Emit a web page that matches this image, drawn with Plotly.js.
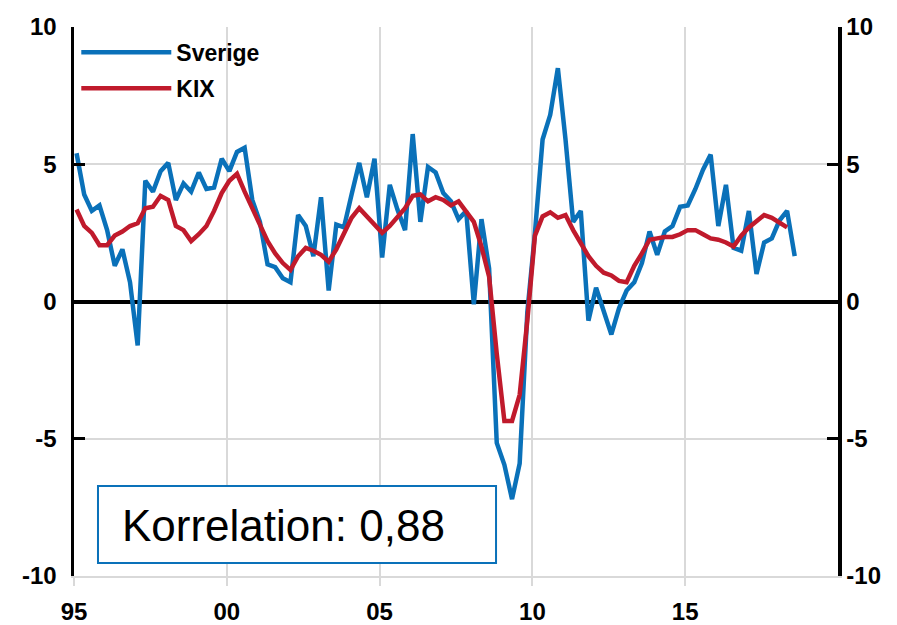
<!DOCTYPE html>
<html><head><meta charset="utf-8">
<script src="https://cdn.plot.ly/plotly-3.0.1.min.js"></script>
<style>html,body{margin:0;padding:0;background:#fff}#chart{width:897px;height:625px}</style>
</head><body><div id="chart"></div>
<script>
const startYear = 1995;
const seriesNames = ['Sverige', 'KIX'];
// Quarterly values, 1995Q1 onward
const sverige = [
  5.4, 3.9, 3.3, 3.5,
  2.6, 1.3, 1.9, 0.7,
  -1.6, 4.4, 4.0, 4.75,
  5.05, 3.7, 4.3, 4.0,
  4.7, 4.1, 4.15, 5.2,
  4.75, 5.45, 5.6, 3.7,
  2.9, 1.35, 1.25, 0.85,
  0.7, 3.15, 2.75, 1.65,
  3.8, 0.4, 2.8, 2.7,
  3.9, 5.05, 3.8, 5.2,
  1.6, 4.25, 3.35, 2.6,
  6.1, 2.9, 4.9, 4.7,
  3.95, 3.65, 3.0, 3.3,
  -0.1, 3.0, 1.2, -5.15,
  -5.95, -7.2, -5.9, -0.4,
  2.5, 5.9, 6.8, 8.5,
  5.9, 2.9, 3.3, -0.7,
  0.5, -0.35, -1.2, -0.25,
  0.4, 0.7, 1.4, 2.55,
  1.7, 2.55, 2.75, 3.45,
  3.5, 4.1, 4.8, 5.35,
  2.75, 4.25, 1.95, 1.85,
  3.3, 1.0, 2.15, 2.3,
  2.95, 3.3, 1.65
];
const kix = [
  3.35, 2.75, 2.5, 2.05,
  2.05, 2.4, 2.55, 2.75,
  2.85, 3.4, 3.45, 3.85,
  3.7, 2.75, 2.6, 2.2,
  2.45, 2.75, 3.3, 3.95,
  4.4, 4.65, 4.0, 3.4,
  2.8, 2.2, 1.75, 1.4,
  1.15, 1.65, 1.95, 1.85,
  1.7, 1.45, 1.9, 2.5,
  3.05, 3.4, 3.1, 2.75,
  2.5, 2.75, 3.05, 3.4,
  3.85, 3.9, 3.65, 3.8,
  3.7, 3.5, 3.65, 3.3,
  2.9, 2.0, 0.9, -1.9,
  -4.35, -4.35, -3.4, -0.7,
  2.4, 3.1, 3.25, 3.05,
  3.15, 2.6, 2.15, 1.65,
  1.3, 1.05, 0.95, 0.75,
  0.7, 1.3, 1.75, 2.25,
  2.3, 2.35, 2.35, 2.45,
  2.6, 2.6, 2.45, 2.3,
  2.25, 2.15, 2.0, 2.4,
  2.7, 2.95, 3.15, 3.05,
  2.85, 2.7
];
const xTickVals = [1995, 2000, 2005, 2010, 2015];
const xTickText = ['95', '00', '05', '10', '15'];
const yTickVals = [-10, -5, 0, 5, 10];
const yTickText = ['-10', '-5', '0', '5', '10'];
const noteText = 'Korrelation: 0,88';

const quarterPos = n => Array.from({length: n}, (_, i) => startYear + i / 4 + 1 / 12);

const BLUE = '#0A71B9';
const RED = '#C01A2C';
const GRID = '#D9D9D9';
const tickFont = {family: 'Liberation Sans, Arial, sans-serif', size: 24, color: '#000', weight: 'bold'};

const traces = [
  {x: quarterPos(sverige.length), y: sverige, name: seriesNames[0], type: 'scatter', mode: 'lines',
   line: {color: BLUE, width: 4.5}, legendgroup: 'a'},
  {x: quarterPos(kix.length), y: kix, name: seriesNames[1], type: 'scatter', mode: 'lines',
   line: {color: RED, width: 4.5}, legendgroup: 'b'},
  {x: [xTickVals[0]], y: [null], yaxis: 'y2', showlegend: false, hoverinfo: 'skip', mode: 'lines'}
];

const yBase = {
  range: [-10, 10], tickvals: yTickVals, ticktext: yTickText,
  showline: true, linecolor: '#000', linewidth: 3.5,
  ticks: 'inside', ticklen: 11, tickwidth: 3, tickcolor: '#000',
  tickfont: tickFont, fixedrange: true
};

const layout = {
  width: 897, height: 625,
  margin: {l: 74, r: 59, t: 27, b: 49},
  paper_bgcolor: '#fff', plot_bgcolor: '#fff',
  showlegend: true,
  legend: {x: 0.003, y: 0.993, xanchor: 'left', yanchor: 'top', bgcolor: 'rgba(255,255,255,0)',
    font: {family: 'Liberation Sans, Arial, sans-serif', size: 23, color: '#000', weight: 'bold'},
    itemwidth: 90, traceorder: 'grouped', tracegroupgap: 3},
  xaxis: {
    range: [1995, 2020], tickvals: xTickVals, ticktext: xTickText,
    showgrid: true, gridcolor: GRID, gridwidth: 2, zeroline: false,
    showline: true, linecolor: GRID, linewidth: 2,
    ticks: 'outside', ticklen: 8, tickwidth: 2, tickcolor: GRID,
    tickfont: tickFont, ticklabelstandoff: 5, fixedrange: true
  },
  yaxis: Object.assign({}, yBase, {
    side: 'left', showgrid: true, gridcolor: GRID, gridwidth: 2,
    zeroline: true, zerolinecolor: '#000', zerolinewidth: 4, ticklabelstandoff: 9
  }),
  yaxis2: Object.assign({}, yBase, {
    side: 'right', overlaying: 'y', showgrid: false, zeroline: false, ticklabelstandoff: 0
  }),
  shapes: [{
    type: 'rect', xref: 'paper', yref: 'paper',
    x0: 0.0314, x1: 0.5524, y0: 0.0237, y1: 0.1639,
    line: {color: BLUE, width: 2}, fillcolor: '#fff', layer: 'above'
  }],
  annotations: [{
    xref: 'paper', yref: 'paper', x: 0.0602, y: 0.092, xanchor: 'left', yanchor: 'middle',
    text: noteText, showarrow: false,
    font: {family: 'Liberation Sans, Arial, sans-serif', size: 44, color: '#000'}
  }]
};

Plotly.newPlot('chart', traces, layout, {displayModeBar: false, staticPlot: true});
</script>
</body></html>
